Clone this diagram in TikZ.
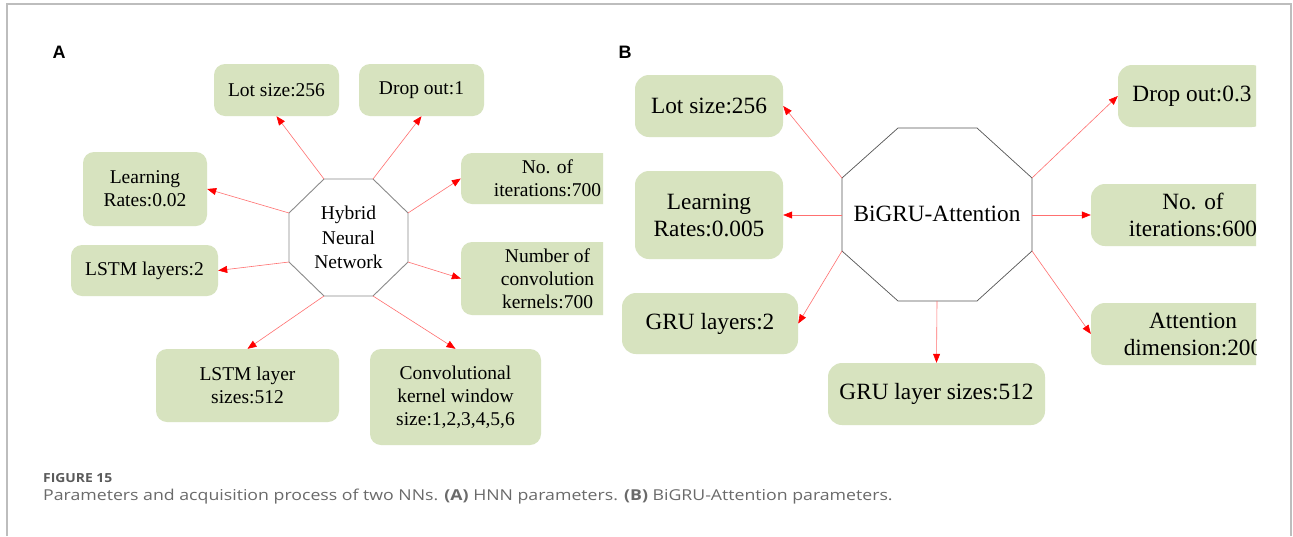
\documentclass[tikz,border=0pt]{standalone}
\usepackage{fontspec}
\usepackage{graphicx}
\setmainfont{Liberation Serif}
\newfontfamily\capfont{Open Sans}
\newfontfamily\labfont{Liberation Sans}
\usetikzlibrary{arrows.meta}
\definecolor{boxgreen}{HTML}{D7E3BF}
\definecolor{linkred}{HTML}{FF7070}
\definecolor{framegray}{HTML}{BDBDBD}
\definecolor{capgray}{HTML}{6A6A6A}
\definecolor{octgrayA}{HTML}{8A8A8A}
\definecolor{octgrayB}{HTML}{555555}
\tikzset{
  parA/.style={rectangle, rounded corners=11pt, fill=boxgreen, inner sep=0pt,
    align=center, font=\fontsize{19.5}{23}\selectfont},
  parB/.style={rectangle, rounded corners=14pt, fill=boxgreen, inner sep=0pt,
    align=center, font=\fontsize{23.3}{27}\selectfont},
  link/.style={draw=linkred, line width=0.6pt,
    -{Triangle[length=9pt,width=7pt,color=red,fill=red]}},
  octA/.style={draw=octgrayA, line width=0.9pt},
  octB/.style={draw=octgrayB, line width=0.7pt},
  panel/.style={anchor=base west, font=\labfont\bfseries\fontsize{18}{20}\selectfont},
}
\begin{document}
\begin{tikzpicture}[x=1pt,y=-1pt]
\useasboundingbox (0,0) rectangle (1293,536);
\fill[white] (0,0) rectangle (1293,536);

% frame around the figure
\draw[framegray, line width=1.2pt] (7,536) -- (7,4) -- (1291,4) -- (1291,536);

% panel letters
\node[panel] (labA) at (49,58) {A};
\node[panel] (labB) at (615,58) {B};

% ---------------- panel A: hybrid neural network ----------------
\coordinate (a1) at (324,179);
\coordinate (a2) at (373,179);
\coordinate (a3) at (408,213);
\coordinate (a4) at (408,262);
\coordinate (a5) at (373,296);
\coordinate (a6) at (324,296);
\coordinate (a7) at (289,262);
\coordinate (a8) at (289,213);
\draw[octA] (a1) -- (a2) -- (a3) -- (a4) -- (a5) -- (a6) -- (a7) -- (a8) -- cycle;
\node[align=center, font=\fontsize{19.5}{24.5}\selectfont] (hnn) at (348.5,237.5)
  {Hybrid\\Neural\\Network};

\node[parA, minimum width=125pt, minimum height=52pt] (lotA) at (276.5,90) {Lot size:256};
\node[parA, minimum width=125pt, minimum height=52pt] (dropA) at (421.5,90) {Drop out:1};
\node[parA, minimum width=124pt, minimum height=74pt] (learnA) at (145,189) {Learning\\Rates:0.02};
\node[parA, minimum width=147pt, minimum height=51pt] (lstmA) at (144.5,270.5) {LSTM layers:2};
\node[parA, minimum width=183pt, minimum height=73pt] (lsizeA) at (247.5,385.5) {LSTM layer\\sizes:512};
\node[parA, minimum width=171pt, minimum height=96pt] (windowA) at (455.5,397)
  {Convolutional\\kernel window\\size:1,2,3,4,5,6};
\begin{scope}
  \clip (440,140) rectangle (603,330);
  \node[parA, minimum width=173pt, minimum height=51pt] (iterA) at (547.5,178.5) {No. of\\iterations:700};
  \node[parA, minimum width=173pt, minimum height=73pt] (convA) at (547.5,278.5)
    {Number of\\convolution\\kernels:700};
\end{scope}

\draw[link] (a1) -- (lotA.south);
\draw[link] (a2) -- (dropA.south);
\draw[link] (a3) -- (iterA.west);
\draw[link] (a4) -- (convA.west);
\draw[link] (a5) -- (windowA.north);
\draw[link] (a6) -- (lsizeA.north);
\draw[link] (a7) -- (lstmA.east);
\draw[link] (a8) -- (learnA.east);

% ---------------- panel B: BiGRU-Attention ----------------
\coordinate (b1) at (898,128);
\coordinate (b2) at (977,128);
\coordinate (b3) at (1032,178);
\coordinate (b4) at (1032,251);
\coordinate (b5) at (977,301);
\coordinate (b6) at (898,301);
\coordinate (b7) at (842,251);
\coordinate (b8) at (842,178);
\coordinate (bleft) at (842,215);
\coordinate (bright) at (1032,215);
\coordinate (bbottom) at (937,301);
\draw[octB] (b1) -- (b2) -- (b3) -- (b4) -- (b5) -- (b6) -- (b7) -- (b8) -- cycle;
\node[font=\fontsize{23.3}{27}\selectfont] (bigru) at (937,214) {BiGRU-Attention};

\node[parB, minimum width=148pt, minimum height=62pt] (lotB) at (709,106) {Lot size:256};
\node[parB, minimum width=148pt, minimum height=88pt] (learnB) at (709,215) {Learning\\Rates:0.005};
\node[parB, minimum width=176pt, minimum height=61pt] (gruB) at (710,323.5) {GRU layers:2};
\node[parB, minimum width=217pt, minimum height=62pt] (gsizeB) at (936.5,394) {GRU layer sizes:512};
\begin{scope}
  \clip (1080,50) rectangle (1256,380);
  \node[parB, minimum width=148pt, minimum height=62pt] (dropB) at (1192,96) {Drop out:0.3};
  \node[parB, minimum width=204pt, minimum height=62pt] (iterB) at (1193,215) {No. of\\iterations:600};
  \node[parB, minimum width=204pt, minimum height=62pt] (attB) at (1193,334) {Attention\\dimension:200};
\end{scope}

\draw[link] (b8) -- (lotB.east);
\draw[link] (bleft) -- (learnB.east);
\draw[link] (b7) -- (gruB.east);
\draw[link] (bbottom) -- (gsizeB.north);
\draw[link] (b3) -- (dropB.west);
\draw[link] (bright) -- (iterB.west);
\draw[link] (b4) -- (attB.west);

% ---------------- caption ----------------
\node[anchor=base west, inner sep=0pt, text=capgray!85!black,
  font=\capfont\bfseries\fontsize{12.5}{14}\selectfont] (figno) at (43,482)
  {\scalebox{1.11}[1]{FIGURE 15}};
\node[anchor=base west, inner sep=0pt, text=capgray,
  font=\capfont\fontsize{15}{17}\selectfont] (caption) at (43,500)
  {\scalebox{1.18}[1]{Parameters and acquisition process of two NNs. \textbf{(A)} HNN parameters. \textbf{(B)} BiGRU-Attention parameters.}};
\end{tikzpicture}
\end{document}
